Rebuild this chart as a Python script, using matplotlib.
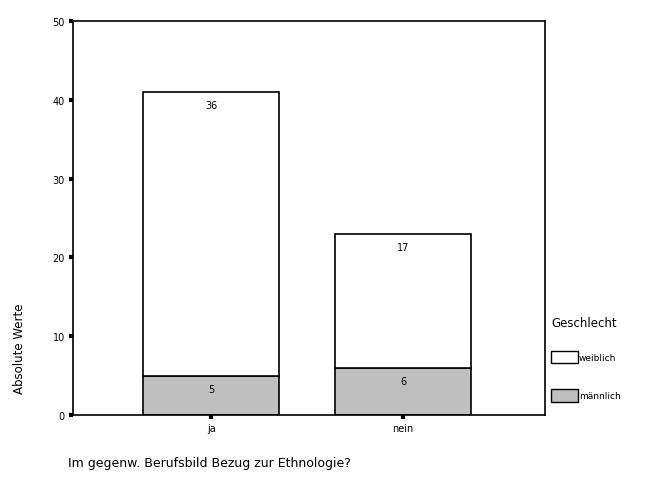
import matplotlib
matplotlib.use("Agg")
import matplotlib.pyplot as plt
from matplotlib.patches import Patch

categories = ["ja", "nein"]
maennlich = [5, 6]
weiblich = [36, 17]
yticks = [0, 10, 20, 30, 40, 50]

plt.rcParams['font.family'] = ['DejaVu Sans']

fig = plt.figure(figsize=(6.53, 4.85), dpi=100)
ax = fig.add_axes([0.112, 0.142, 0.723, 0.813])

x = list(range(len(categories)))
w = 0.71
b1 = ax.bar(x, maennlich, w, color='#c0c0c0', edgecolor='black', linewidth=1.2)
b2 = ax.bar(x, weiblich, w, bottom=maennlich, color='white', edgecolor='black', linewidth=1.2)

for i in x:
    ax.annotate(str(maennlich[i]), (i, maennlich[i]), xytext=(0, -6), textcoords='offset points',
                ha='center', va='top', fontsize=7)
    ax.annotate(str(weiblich[i]), (i, maennlich[i] + weiblich[i]), xytext=(0, -6),
                textcoords='offset points', ha='center', va='top', fontsize=7)

ax.set_xlim(-0.72, 1.74)
ax.set_ylim(0, 50)
ax.set_yticks(yticks)
ax.set_xticks(x)
ax.set_xticklabels(categories)
ax.tick_params(axis='both', direction='out', length=3, width=3, labelsize=7, pad=3)
for s in ax.spines.values():
    s.set_linewidth(1.2)

fig.text(0.104, 0.045, "Im gegenw. Berufsbild Bezug zur Ethnologie?", fontsize=9, ha='left', va='center')
fig.text(0.03, 0.28, "Absolute Werte", fontsize=8.5, rotation=90, ha='center', va='center')

handles = [Patch(facecolor='white', edgecolor='black', label='weiblich'),
           Patch(facecolor='#c0c0c0', edgecolor='black', label='männlich')]
leg = ax.legend(handles=handles, title="Geschlecht", loc='upper left',
                bbox_to_anchor=(1.012, 0.252), frameon=False, fontsize=6.5,
                title_fontsize=8.5, handlelength=3.0, handleheight=1.7,
                labelspacing=2.9, handletextpad=0.1, borderaxespad=0, borderpad=0)
leg._legend_box.align = "left"
leg._legend_box.sep = 16

fig.savefig("out.png", dpi=100)
